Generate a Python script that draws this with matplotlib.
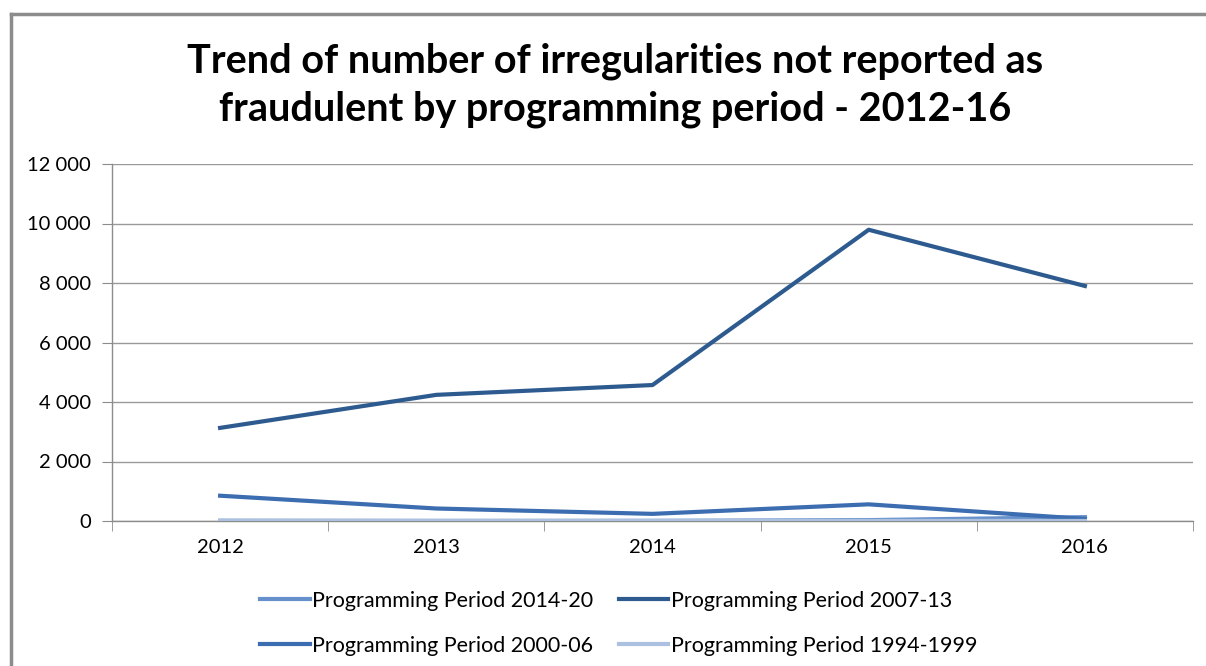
import matplotlib.pyplot as plt
from matplotlib.lines import Line2D
from matplotlib.ticker import FuncFormatter

years = ['2012', '2013', '2014', '2015', '2016']
pp_2014_20 = [0, 0, 5, 30, 130]
pp_2007_13 = [3130, 4240, 4570, 9790, 7900]
pp_2000_06 = [850, 420, 240, 560, 70]
pp_1994_99 = [20, 10, 5, 3, 2]

plt.rcParams['font.family'] = ['Lato', 'DejaVu Sans']

fig = plt.figure(figsize=(12.06, 6.66), dpi=100)
# outer chart frame (only top and left edges are visible in the screenshot)
fx, fy = 11 / 1206, 1 - 14 / 666
fig.add_artist(Line2D([fx, fx], [0, fy], transform=fig.transFigure, color='#8c8c8c', lw=2.5))
fig.add_artist(Line2D([fx, 1], [fy, fy], transform=fig.transFigure, color='#8c8c8c', lw=2.5))

ax = fig.add_axes([112 / 1206, 1 - 521 / 666, (1193 - 112) / 1206, (521 - 164) / 666])
x = range(len(years))
l1, = ax.plot(x, pp_2014_20, color='#6690cc', lw=3, label='Programming Period 2014-20', zorder=3)
l2, = ax.plot(x, pp_2007_13, color='#2e5b8f', lw=3, label='Programming Period 2007-13', zorder=3)
l3, = ax.plot(x, pp_2000_06, color='#3b6db0', lw=3, label='Programming Period 2000-06', zorder=3)
l4, = ax.plot(x, pp_1994_99, color='#abc1df', lw=3, label='Programming Period 1994-1999', zorder=3)

ax.set_xlim(-0.5, 4.5)
ax.set_ylim(0, 12000)
ax.set_yticks(range(0, 12001, 2000))
ax.yaxis.set_major_formatter(FuncFormatter(lambda v, p: f'{int(v):,}'.replace(',', ' ')))
ax.set_xticks(list(x))
ax.set_xticklabels(years)
ax.set_xticks([i - 0.5 for i in range(6)], minor=True)
ax.tick_params(axis='x', which='major', length=0, pad=13, labelsize=14.5)
ax.tick_params(axis='x', which='minor', length=7, color='#8c8c8c', direction='out')
ax.tick_params(axis='y', length=7, color='#8c8c8c', labelsize=14.5, pad=8)
ax.grid(axis='y', color='#999999', lw=1)
ax.set_axisbelow(True)
for s in ['top', 'right']:
    ax.spines[s].set_visible(False)
for s in ['left', 'bottom']:
    ax.spines[s].set_color('#8c8c8c')
    ax.spines[s].set_linewidth(1)

fig.text(0.51, 0.872, 'Trend of number of irregularities not reported as\nfraudulent by programming period - 2012-16',
         ha='center', va='center', fontsize=28.5, fontweight='bold', linespacing=1.38)

fig.legend(handles=[l1, l3, l2, l4], ncol=2, loc='center', bbox_to_anchor=(0.513, 0.064),
           frameon=False, fontsize=15.5, handlelength=2.3, handletextpad=0.1, columnspacing=1.2,
           labelspacing=1.15)

fig.savefig('out.png', dpi=100)
